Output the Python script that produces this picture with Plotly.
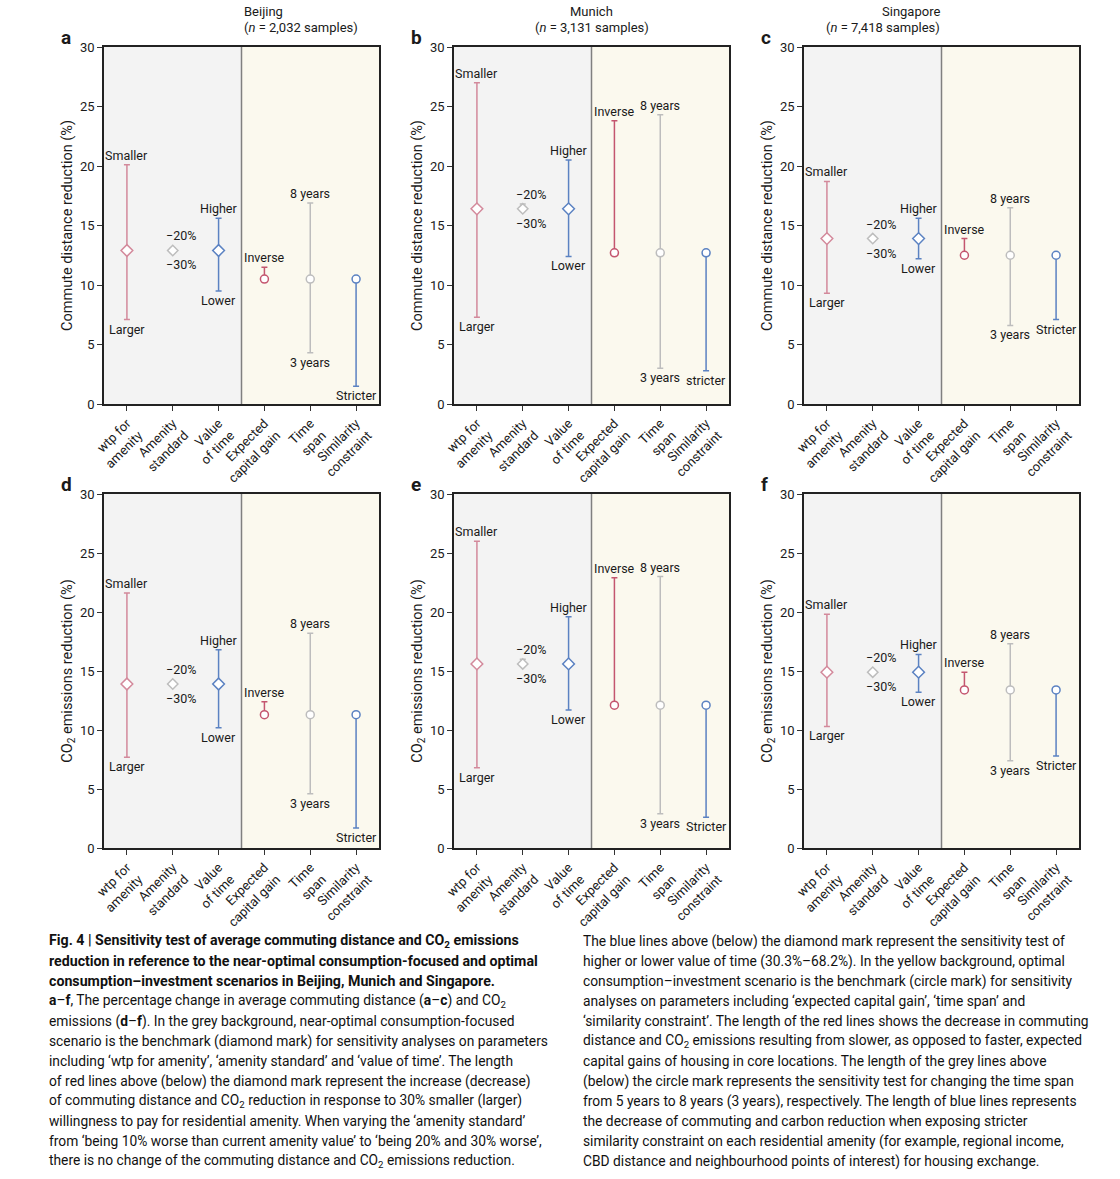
import plotly.graph_objects as go

W, H = 1120, 1179


def px(x):
    return x / W


def py(y):
    return 1 - y / H


# ---------------- data ----------------
cities = ["Beijing", "Munich", "Singapore"]
samples = ["2,032", "3,131", "7,418"]
categories = ["wtp for<br>amenity", "Amenity<br>standard", "Value<br>of time",
              "Expected<br>capital gain", "Time<br>span", "Similarity<br>constraint"]
high_labels = ["Smaller", "\u221220%", "Higher", "Inverse", "8 years", ""]
low_labels = ["Larger", "\u221230%", "Lower", "", "3 years", "Stricter"]
low_labels_munich = ["Larger", "\u221230%", "Lower", "", "3 years", "stricter"]
y_titles = ["Commute distance reduction (%)", "CO<sub>2</sub> emissions reduction (%)"]
y_ticks = [0, 5, 10, 15, 20, 25, 30]

# commute distance reduction (%)
bj_dist_mid = [12.9, 12.9, 12.9, 10.5, 10.5, 10.5]
bj_dist_high = [20.1, 13.1, 15.6, 11.5, 16.9, 10.5]
bj_dist_low = [7.1, 12.7, 9.5, 10.5, 4.3, 1.5]

mu_dist_mid = [16.4, 16.4, 16.4, 12.7, 12.7, 12.7]
mu_dist_high = [27.0, 16.8, 20.5, 23.8, 24.3, 12.7]
mu_dist_low = [7.3, 16.2, 12.4, 12.7, 3.0, 2.8]

sg_dist_mid = [13.9, 13.9, 13.9, 12.5, 12.5, 12.5]
sg_dist_high = [18.7, 14.1, 15.6, 13.9, 16.5, 12.5]
sg_dist_low = [9.3, 13.7, 12.2, 12.5, 6.6, 7.1]

# CO2 emissions reduction (%)
bj_co2_mid = [13.9, 13.9, 13.9, 11.3, 11.3, 11.3]
bj_co2_high = [21.6, 14.1, 16.8, 12.4, 18.2, 11.3]
bj_co2_low = [7.7, 13.8, 10.2, 11.3, 4.6, 1.7]

mu_co2_mid = [15.6, 15.6, 15.6, 12.1, 12.1, 12.1]
mu_co2_high = [26.0, 16.0, 19.6, 22.9, 23.0, 12.1]
mu_co2_low = [6.8, 15.4, 11.7, 12.1, 2.9, 2.6]

sg_co2_mid = [14.9, 14.9, 14.9, 13.4, 13.4, 13.4]
sg_co2_high = [19.8, 15.1, 16.4, 14.9, 17.3, 13.4]
sg_co2_low = [10.3, 14.7, 13.2, 13.4, 7.4, 7.8]

caption_left = [
    "<b>Fig. 4 | Sensitivity test of average commuting distance and CO<sub>2</sub> emissions</b>",
    "<b>reduction in reference to the near-optimal consumption-focused and optimal</b>",
    "<b>consumption\u2013investment scenarios in Beijing, Munich and Singapore.</b>",
    "<b>a</b>\u2013<b>f</b>, The percentage change in average commuting distance (<b>a</b>\u2013<b>c</b>) and CO<sub>2</sub>",
    "emissions (<b>d</b>\u2013<b>f</b>). In the grey background, near-optimal consumption-focused",
    "scenario is the benchmark (diamond mark) for sensitivity analyses on parameters",
    "including \u2018wtp for amenity\u2019, \u2018amenity standard\u2019 and \u2018value of time\u2019. The length",
    "of red lines above (below) the diamond mark represent the increase (decrease)",
    "of commuting distance and CO<sub>2</sub> reduction in response to 30% smaller (larger)",
    "willingness to pay for residential amenity. When varying the \u2018amenity standard\u2019",
    "from \u2018being 10% worse than current amenity value\u2019 to \u2018being 20% and 30% worse\u2019,",
    "there is no change of the commuting distance and CO<sub>2</sub> emissions reduction.",
]
caption_right = [
    "The blue lines above (below) the diamond mark represent the sensitivity test of",
    "higher or lower value of time (30.3%\u201368.2%). In the yellow background, optimal",
    "consumption\u2013investment scenario is the benchmark (circle mark) for sensitivity",
    "analyses on parameters including \u2018expected capital gain\u2019, \u2018time span\u2019 and",
    "\u2018similarity constraint\u2019. The length of the red lines shows the decrease in commuting",
    "distance and CO<sub>2</sub> emissions resulting from slower, as opposed to faster, expected",
    "capital gains of housing in core locations. The length of the grey lines above",
    "(below) the circle mark represents the sensitivity test for changing the time span",
    "from 5 years to 8 years (3 years), respectively. The length of blue lines represents",
    "the decrease of commuting and carbon reduction when exposing stricter",
    "similarity constraint on each residential amenity (for example, regional income,",
    "CBD distance and neighbourhood points of interest) for housing exchange.",
]

# ---------------- styling ----------------
PINK = "#d3899b"
RED = "#c4566f"
BLUE = "#5b82c2"
GREY = "#bdbdbd"
cat_colors = [PINK, GREY, BLUE, RED, GREY, BLUE]
cat_symbols = ["diamond", "diamond", "diamond", "circle", "circle", "circle"]
cat_sizes = [9, 8, 9, 8, 8, 8]
BG_GREY = "#f3f3f3"
BG_YELLOW = "#fbf9ee"
FONT = "Roboto, Liberation Sans, Arial, sans-serif"
CAP_FONT = "Roboto, sans-serif"

col_px = [(104, 379), (454, 729), (804, 1079)]
row_px = [(47, 404), (494, 848)]

panels = [
    ("a", 0, 0, bj_dist_mid, bj_dist_high, bj_dist_low, low_labels),
    ("b", 0, 1, mu_dist_mid, mu_dist_high, mu_dist_low, low_labels_munich),
    ("c", 0, 2, sg_dist_mid, sg_dist_high, sg_dist_low, low_labels),
    ("d", 1, 0, bj_co2_mid, bj_co2_high, bj_co2_low, low_labels),
    ("e", 1, 1, mu_co2_mid, mu_co2_high, mu_co2_low, low_labels),
    ("f", 1, 2, sg_co2_mid, sg_co2_high, sg_co2_low, low_labels),
]

fig = go.Figure()
layout = dict(
    width=W, height=H,
    margin=dict(l=0, r=0, t=0, b=0, autoexpand=False),
    paper_bgcolor="white",
    plot_bgcolor="white",
    showlegend=False,
    font=dict(family=FONT, color="#1a1a1a", size=12),
)
shapes = []
annotations = []

for k, (letter, row, col, mid, high, low, lows) in enumerate(panels, start=1):
    xs = "" if k == 1 else str(k)
    xref, yref = "x" + xs, "y" + xs
    x0p, x1p = col_px[col]
    y0p, y1p = row_px[row]
    layout["xaxis" + xs] = dict(
        domain=[px(x0p), px(x1p)], anchor=yref, automargin=False,
        range=[-0.5, 5.5], tickmode="array",
        tickvals=list(range(len(categories))), ticktext=categories,
        tickangle=-45, ticks="outside", ticklen=5, tickwidth=1.2, tickcolor="#333",
        showline=True, linecolor="#222", linewidth=1.5, mirror=True,
        showgrid=False, zeroline=False,
        tickfont=dict(size=13, family=FONT, color="#1a1a1a"),
    )
    layout["yaxis" + xs] = dict(
        domain=[py(y1p), py(y0p)], anchor=xref, automargin=False,
        range=[0, 30], tickmode="array", tickvals=y_ticks,
        ticks="outside", ticklen=5, tickwidth=1.2, tickcolor="#333",
        showline=True, linecolor="#222", linewidth=1.5, mirror=True,
        showgrid=False, zeroline=False,
        tickfont=dict(size=13, family=FONT, color="#1a1a1a"),
        title=dict(text=y_titles[row], font=dict(size=14.5, family=FONT), standoff=4),
    )
    # backgrounds
    shapes.append(dict(type="rect", xref=xref, yref=yref + " domain", x0=-0.5, x1=2.5,
                       y0=0, y1=1, fillcolor=BG_GREY, line=dict(width=0), layer="below"))
    shapes.append(dict(type="rect", xref=xref, yref=yref + " domain", x0=2.5, x1=5.5,
                       y0=0, y1=1, fillcolor=BG_YELLOW, line=dict(width=0), layer="below"))
    shapes.append(dict(type="line", xref=xref, yref=yref + " domain", x0=2.5, x1=2.5,
                       y0=0, y1=1, line=dict(color="#808080", width=1.5), layer="above"))

    for j in range(len(categories)):
        c = cat_colors[j]
        fig.add_trace(go.Scatter(
            x=[j], y=[mid[j]], mode="markers", xaxis=xref, yaxis=yref,
            marker=dict(symbol=cat_symbols[j], size=cat_sizes[j], color="white",
                        line=dict(color=c, width=1.5)),
            error_y=dict(type="data", symmetric=False,
                         array=[high[j] - mid[j]], arrayminus=[mid[j] - low[j]],
                         color=c, thickness=1.5, width=3),
            cliponaxis=False, hoverinfo="skip", showlegend=False,
        ))
        if j == 1:
            annotations.append(dict(x=j, y=mid[j], xref=xref, yref=yref, text=high_labels[j],
                                    showarrow=False, yanchor="bottom", yshift=5, xshift=8,
                                    font=dict(size=12.5, family=FONT)))
            annotations.append(dict(x=j, y=mid[j], xref=xref, yref=yref, text=lows[j],
                                    showarrow=False, yanchor="top", yshift=-5, xshift=8,
                                    font=dict(size=12.5, family=FONT)))
            continue
        if high_labels[j]:
            annotations.append(dict(x=j, y=high[j], xref=xref, yref=yref, text=high_labels[j],
                                    showarrow=False, yanchor="bottom", yshift=0,
                                    font=dict(size=12.5, family=FONT)))
        if lows[j]:
            annotations.append(dict(x=j, y=low[j], xref=xref, yref=yref, text=lows[j],
                                    showarrow=False, yanchor="top", yshift=0,
                                    font=dict(size=12.5, family=FONT)))

    # panel letter
    annotations.append(dict(x=px(x0p - 45), y=py(y0p - 9), xref="paper", yref="paper",
                            text="<b>%s</b>" % letter, showarrow=False,
                            xanchor="left", yanchor="middle", font=dict(size=19, family=FONT)))
    if row == 0:
        cx = px((x0p + x1p) / 2)
        annotations.append(dict(x=cx, y=py(12), xref="paper", yref="paper",
                                text=cities[col], showarrow=False, yanchor="middle",
                                font=dict(size=13, family=FONT)))
        annotations.append(dict(x=cx, y=py(27), xref="paper", yref="paper",
                                text="(<i>n</i> = %s samples)" % samples[col], showarrow=False,
                                yanchor="middle", font=dict(size=13, family=FONT)))

# caption
for i, line in enumerate(caption_left):
    size = 14.2 if i < 3 else 13.8
    annotations.append(dict(x=px(47), y=py(941 + 20 * i), xref="paper", yref="paper",
                            text=line, showarrow=False, xanchor="left", yanchor="middle",
                            align="left", font=dict(size=size, family=CAP_FONT, color="#111111")))
for i, line in enumerate(caption_right):
    annotations.append(dict(x=px(581), y=py(941 + 20 * i), xref="paper", yref="paper",
                            text=line, showarrow=False, xanchor="left", yanchor="middle",
                            align="left", font=dict(size=13.8, family=CAP_FONT, color="#111111")))

layout["shapes"] = shapes
layout["annotations"] = annotations
fig.update_layout(**layout)

fig.write_html("out.html", config={"displayModeBar": False},
               post_script="document.body.style.margin='0';document.body.style.overflow='hidden';")
